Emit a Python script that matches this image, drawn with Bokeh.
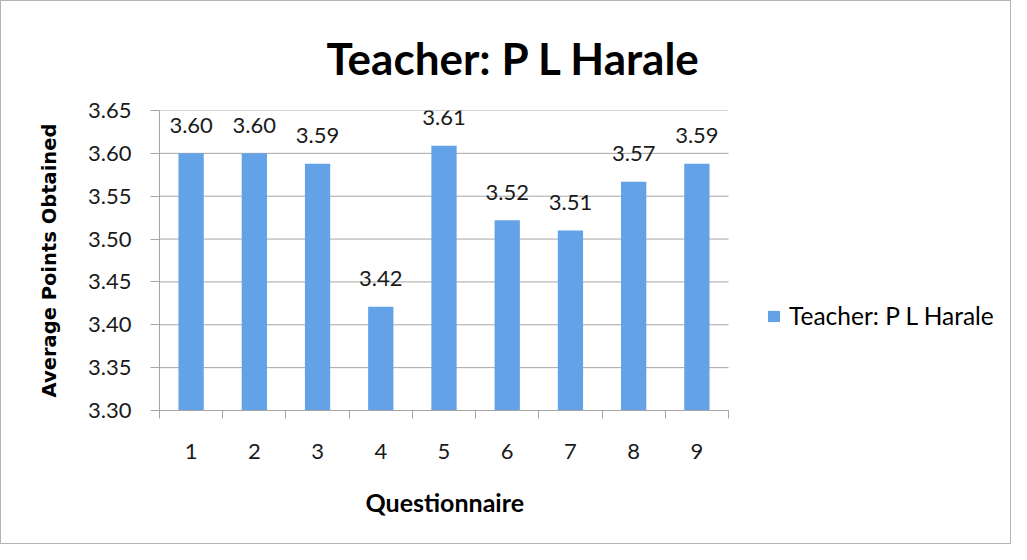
from bokeh.plotting import figure
from bokeh.models import (ColumnDataSource, Range1d, FixedTicker, NumeralTickFormatter,
                          Legend, LegendItem, Title)
from bokeh.core.properties import value
from bokeh.embed import file_html
from bokeh.resources import INLINE

# ---- data ----
questions = [1, 2, 3, 4, 5, 6, 7, 8, 9]
avg_points = [3.600, 3.600, 3.588, 3.421, 3.609, 3.522, 3.510, 3.567, 3.588]
y_ticks = [3.30, 3.35, 3.40, 3.45, 3.50, 3.55, 3.60, 3.65]
series_name = "Teacher: P L Harale"
title_text = "Teacher: P L Harale"
x_label = "Questionnaire"
y_label = "Average Points Obtained"

labels = ["%.2f" % v for v in avg_points]
src = ColumnDataSource(dict(x=questions, top=avg_points, lab=labels))

BAR = "#64a2e8"
GRID = "#a6a6a6"

# layout (pixels): category area is 569 px wide, frame extends right to hold legend
W, H = 1011, 544
LEFT, RIGHT, TOP, BOTTOM = 158, 4, 109, 135
CAT_AREA_PX = 569
frame_w = W - LEFT - RIGHT
x_lo = questions[0] - 0.5
x_hi_cat = questions[-1] + 0.5
x_hi = x_lo + (x_hi_cat - x_lo) * frame_w / CAT_AREA_PX

p = figure(width=W, height=H, output_backend="svg", toolbar_location=None,
           x_range=Range1d(x_lo, x_hi), y_range=Range1d(y_ticks[0], y_ticks[-1]),
           min_border_left=LEFT, min_border_right=RIGHT, min_border_top=TOP,
           min_border_bottom=BOTTOM, outline_line_color=None,
           background_fill_color="white", border_fill_color="white")
p.styles = {"border": "1px solid #b5b5b5", "box-sizing": "border-box"}

p.title = Title(text=title_text, align="left", offset=167,
                text_font="Lato", text_font_style="bold",
                text_font_size="44px", text_color="#000000", standoff=54)

# horizontal gridlines limited to category area
p.xgrid.grid_line_color = None
p.ygrid.grid_line_color = None
p.segment(x0=[x_lo] * len(y_ticks), x1=[x_hi_cat] * len(y_ticks),
          y0=y_ticks, y1=y_ticks, line_color=GRID, line_width=1)

r = p.vbar(x="x", top="top", bottom=y_ticks[0], width=0.4, source=src,
           fill_color=BAR, line_color=None)

p.text(x="x", y="top", text="lab", source=src, text_align="center",
       text_baseline="middle", y_offset=-28, text_font=value("Lato"),
       text_font_size="22px", text_color="#1a1a1a")

# y axis
p.yaxis.ticker = FixedTicker(ticks=y_ticks)
p.yaxis.formatter = NumeralTickFormatter(format="0.00")
p.yaxis.major_label_text_font = "Lato"
p.yaxis.major_label_text_font_size = "22px"
p.yaxis.major_label_text_color = "#1a1a1a"
p.yaxis.axis_line_color = GRID
p.yaxis.major_tick_line_color = GRID
p.yaxis.major_tick_out = 9
p.yaxis.major_tick_in = 0
p.yaxis.minor_tick_line_color = None
p.yaxis.major_label_standoff = 19
p.yaxis.axis_label = y_label
p.yaxis.axis_label_text_font = "DejaVu Sans"
p.yaxis.axis_label_text_font_style = "bold"
p.yaxis.axis_label_text_font_size = "19.5px"
p.yaxis.axis_label_text_color = "#000000"
p.yaxis.axis_label_standoff = 24

# x axis
p.xaxis.bounds = (x_lo, x_hi_cat)
p.xaxis.ticker = FixedTicker(ticks=questions,
                             minor_ticks=[q - 0.5 for q in questions] + [x_hi_cat])
p.xaxis.major_label_text_font = "Lato"
p.xaxis.major_label_text_font_size = "22px"
p.xaxis.major_label_text_color = "#1a1a1a"
p.xaxis.axis_line_color = GRID
p.xaxis.major_tick_line_color = None
p.xaxis.major_tick_out = 0
p.xaxis.major_tick_in = 0
p.xaxis.minor_tick_line_color = GRID
p.xaxis.minor_tick_out = 8
p.xaxis.minor_tick_in = 0
p.xaxis.major_label_standoff = 25

# x axis title, centred under the category area
p.add_layout(Title(text=x_label, align="left", offset=206,
                   text_font="Lato", text_font_style="bold",
                   text_font_size="25px", text_color="#000000",
                   standoff=46), "below")

legend = Legend(items=[LegendItem(label=series_name, renderers=[r])],
                location=(607, 80), padding=0, margin=0, spacing=0,
                border_line_color=None, background_fill_alpha=0,
                glyph_width=15, glyph_height=14, label_standoff=8,
                label_text_font="Lato", label_text_font_size="24.5px",
                label_text_color="#000000", label_height=20)
p.add_layout(legend, "center")

open("out.html", "w").write(file_html(p, INLINE))
